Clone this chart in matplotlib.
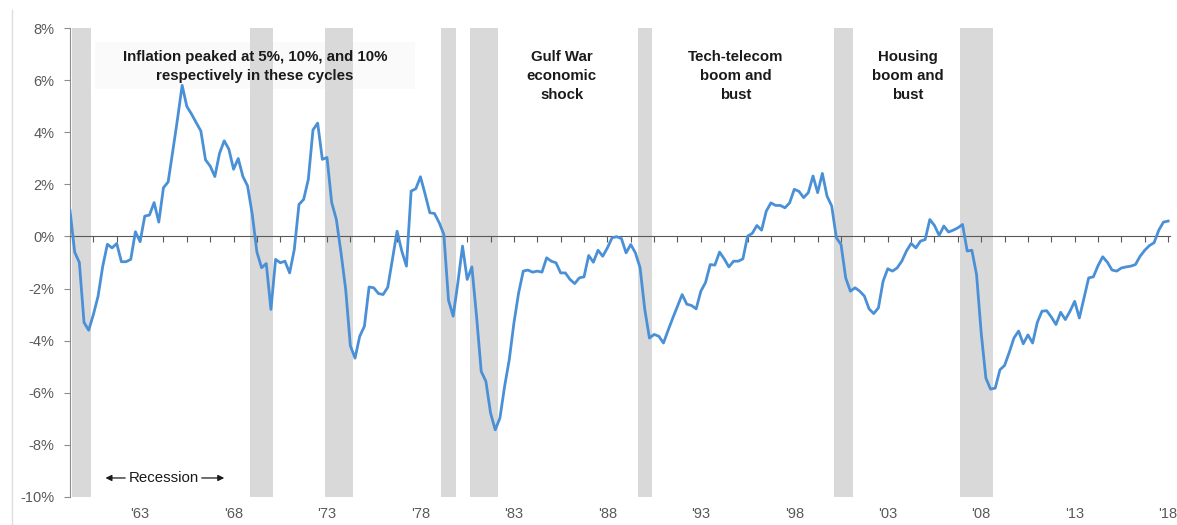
import matplotlib
matplotlib.use("Agg")
import matplotlib.pyplot as plt
from matplotlib.lines import Line2D
from matplotlib.patches import Rectangle
import numpy as np
import pandas as pd

plt.rcParams['font.family'] = ['Liberation Sans', 'DejaVu Sans']

# output gap, % of potential GDP, quarterly from 1960Q1
gap = [
    1.0, -0.6, -1.0, -3.3, -3.6, -3.0, -2.3, -1.15, -0.3, -0.44,
    -0.27, -0.97, -0.97, -0.88, 0.18, -0.2, 0.78, 0.82, 1.3, 0.55,
    1.87, 2.09, 3.28, 4.5, 5.8, 4.99, 4.7, 4.37, 4.05, 2.94,
    2.7, 2.3, 3.19, 3.67, 3.35, 2.58, 2.99, 2.3, 1.94, 0.85,
    -0.6, -1.2, -1.04, -2.8, -0.88, -1.01, -0.95, -1.4, -0.5, 1.23,
    1.42, 2.19, 4.09, 4.35, 2.96, 3.03, 1.3, 0.65, -0.63, -2.04,
    -4.2, -4.67, -3.83, -3.45, -1.94, -1.97, -2.19, -2.23, -1.95, -0.88,
    0.2, -0.56, -1.14, 1.74, 1.83, 2.29, 1.62, 0.91, 0.88, 0.53,
    0.08, -2.45, -3.06, -1.78, -0.37, -1.65, -1.17, -3.06, -5.18, -5.56,
    -6.78, -7.42, -6.97, -5.76, -4.73, -3.32, -2.17, -1.33, -1.29, -1.37,
    -1.33, -1.37, -0.82, -0.95, -1.01, -1.4, -1.4, -1.65, -1.81, -1.59,
    -1.55, -0.73, -0.99, -0.53, -0.76, -0.44, -0.05, -0.01, -0.08, -0.63,
    -0.31, -0.63, -1.2, -2.8, -3.9, -3.76, -3.83, -4.09, -3.6, -3.13,
    -2.68, -2.23, -2.6, -2.65, -2.78, -2.1, -1.77, -1.08, -1.1, -0.6,
    -0.86, -1.17, -0.95, -0.95, -0.86, 0.01, 0.12, 0.42, 0.24, 0.97,
    1.29, 1.19, 1.19, 1.1, 1.29, 1.81, 1.73, 1.49, 1.68, 2.32,
    1.68, 2.42, 1.55, 1.17, -0.05, -0.31, -1.59, -2.1, -1.97, -2.1,
    -2.29, -2.78, -2.96, -2.74, -1.72, -1.24, -1.33, -1.21, -0.95, -0.56,
    -0.27, -0.44, -0.18, -0.12, 0.65, 0.42, 0.04, 0.4, 0.17, 0.24,
    0.33, 0.46, -0.56, -0.53, -1.46, -3.71, -5.44, -5.86, -5.82, -5.12,
    -4.95, -4.45, -3.9, -3.63, -4.12, -3.78, -4.09, -3.3, -2.87, -2.85,
    -3.09, -3.38, -2.91, -3.19, -2.87, -2.49, -3.13, -2.36, -1.59, -1.55,
    -1.12, -0.78, -0.99, -1.29, -1.33, -1.21, -1.17, -1.14, -1.08, -0.76,
    -0.53, -0.35, -0.24, 0.24, 0.55, 0.59,
]

# NBER recessions (first and last quarter)
recessions = [
    ("1960Q2", "1961Q1"), ("1969Q4", "1970Q4"), ("1973Q4", "1975Q1"),
    ("1980Q1", "1980Q3"), ("1981Q3", "1982Q4"), ("1990Q3", "1991Q1"),
    ("2001Q1", "2001Q4"), ("2007Q4", "2009Q2"),
]

year_labels = ["'63", "'68", "'73", "'78", "'83", "'88", "'93", "'98", "'03", "'08", "'13", "'18"]
label_years = [1963, 1968, 1973, 1978, 1983, 1988, 1993, 1998, 2003, 2008, 2013, 2018]

quarters = pd.period_range("1960Q1", periods=len(gap), freq="Q")
x = np.arange(len(gap))
q0 = quarters[0]


def qidx(p):
    return (pd.Period(p, freq="Q") - q0).n


fig = plt.figure(figsize=(11.77, 5.25), dpi=100)
ax = fig.add_axes([70 / 1177, 28 / 525, 1100 / 1177, 469 / 525])

# recession shading as full-height columns
rec_q = [i for s, e in recessions for i in range(qidx(s), qidx(e) + 1)]
ax.bar(rec_q, 18, bottom=-10, width=1.0, color="#d9d9d9", zorder=1, linewidth=0)

ax.plot(x, gap, color="#4a90d6", lw=2.0, zorder=4, solid_joinstyle="round")

ax.set_xlim(0, len(gap) - 0.6)
ax.set_ylim(-10, 8)

# y axis
yt = np.arange(-10, 9, 2)
ax.set_yticks(yt)
ax.set_yticklabels([f"{v}%" for v in yt])
ax.tick_params(axis="y", direction="out", length=4, color="#8c8c8c",
               labelsize=10.5, labelcolor="#595959", pad=7)
ax.spines["left"].set_color("#8c8c8c")
ax.spines["top"].set_visible(False)
ax.spines["right"].set_visible(False)

# category axis crosses at zero, tick marks every 5 quarters
ax.spines["bottom"].set_position(("data", 0))
ax.spines["bottom"].set_color("#595959")
ax.spines["bottom"].set_zorder(3)
ax.set_xticks(np.arange(0, len(gap), 5))
ax.tick_params(axis="x", direction="out", length=4, color="#595959", labelbottom=False)

# year labels below the plot, at the fourth quarter of each year
sec = ax.secondary_xaxis("bottom")
sec.set_xticks([qidx(f"{y}Q4") for y in label_years], labels=year_labels)
sec.tick_params(length=0, labelsize=10.5, labelcolor="#595959", pad=7)
sec.spines["bottom"].set_visible(False)

# annotations
bold = dict(fontsize=10.8, fontweight="bold", color="#1a1a1a", ha="center",
            va="center", linespacing=1.45, zorder=5)
ax.add_patch(Rectangle((5.4, 5.65), 68.5, 1.8, facecolor="#fafafa",
                       edgecolor="none", zorder=0.5))
ax.text(39.6, 6.52, "Inflation peaked at 5%, 10%, and 10%\nrespectively in these cycles", **bold)
ax.text(105.2, 6.15, "Gulf War\neconomic\nshock", **bold)
ax.text(142.5, 6.15, "Tech-telecom\nboom and\nbust", **bold)
ax.text(179.3, 6.15, "Housing\nboom and\nbust", **bold)

ax.text(20, -9.27, "Recession", fontsize=10.8, color="#1a1a1a", ha="center", va="center", zorder=5)
arrow = dict(arrowstyle="-|>", color="#1a1a1a", lw=0.9, mutation_scale=9)
ax.annotate("", xy=(7.0, -9.27), xytext=(12.4, -9.27), arrowprops=arrow, zorder=5)
ax.annotate("", xy=(33.6, -9.27), xytext=(27.6, -9.27), arrowprops=arrow, zorder=5)

# thin frame line at the left edge of the slide
fig.add_artist(Line2D([12 / 1177, 12 / 1177], [0, 1 - 10 / 525], color="#dedede", lw=1))

fig.savefig("out.png", dpi=100)
